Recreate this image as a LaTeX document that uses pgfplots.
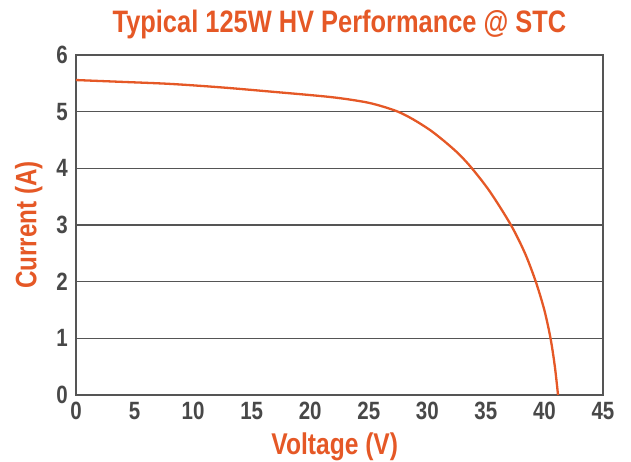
\documentclass[border=0pt]{standalone}
\usepackage{fontspec}
\setmainfont{Liberation Sans}[FakeStretch=0.82]
\usepackage{pgfplots}
\pgfplotsset{compat=1.18}
\definecolor{sorange}{RGB}{229,88,38}
\definecolor{sgray}{RGB}{85,85,85}
\definecolor{tgray}{RGB}{72,72,72}
\begin{document}
\begin{tikzpicture}
\useasboundingbox (-76pt,-67pt) rectangle (555pt,395pt);
\begin{axis}[
  scale only axis,
  width=527pt, height=340pt,
  xmin=0, xmax=45, ymin=0, ymax=6,
  xtick={0,5,...,45}, ytick={0,1,...,6},
  axis line style={sgray, line width=1.6pt},
  major tick length=0pt,
  ymajorgrids,
  grid style={sgray, line width=1.4pt},
  /pgf/number format/assume math mode=true,
  tick label style={font=\bfseries\fontsize{25}{27}\selectfont, text=tgray},
  xticklabel style={anchor=north, inner sep=0pt, yshift=-7pt},
  yticklabel style={anchor=east, inner sep=0pt, xshift=-8pt},
  title={Typical 125W HV Performance @ STC},
  title style={font=\bfseries\fontsize{31}{34}\selectfont, text=sorange, at={(0.5,1)}, anchor=base, yshift=16pt},
  xlabel={Voltage (V)},
  xlabel style={font=\bfseries\fontsize{30}{32}\selectfont, text=sorange, at={(axis description cs:0.491,0)}, anchor=base, yshift=-60pt},
  ylabel={Current (A)},
  ylabel style={font=\bfseries\fontsize{29.5}{31}\selectfont, text=sorange, at={(axis description cs:-0.075,0.5)}, anchor=base},
  clip=false,
]
\addplot[sorange, line width=2.3pt, smooth, tension=0.5] coordinates {
(0,5.558) (4,5.525) (8.03,5.49) (12.3,5.43) (16.57,5.355) (21.69,5.259)
(24.51,5.176) (25.96,5.105) (27.5,4.999) (28.78,4.865) (30.23,4.676)
(31.5,4.47) (32.7,4.25) (33.81,4.0) (35.35,3.587) (37.14,2.999)
(38.34,2.5) (39.26,2.0) (39.99,1.5) (40.52,1.0) (40.89,0.5) (41.16,0)
};
\end{axis}
\end{tikzpicture}
\end{document}
